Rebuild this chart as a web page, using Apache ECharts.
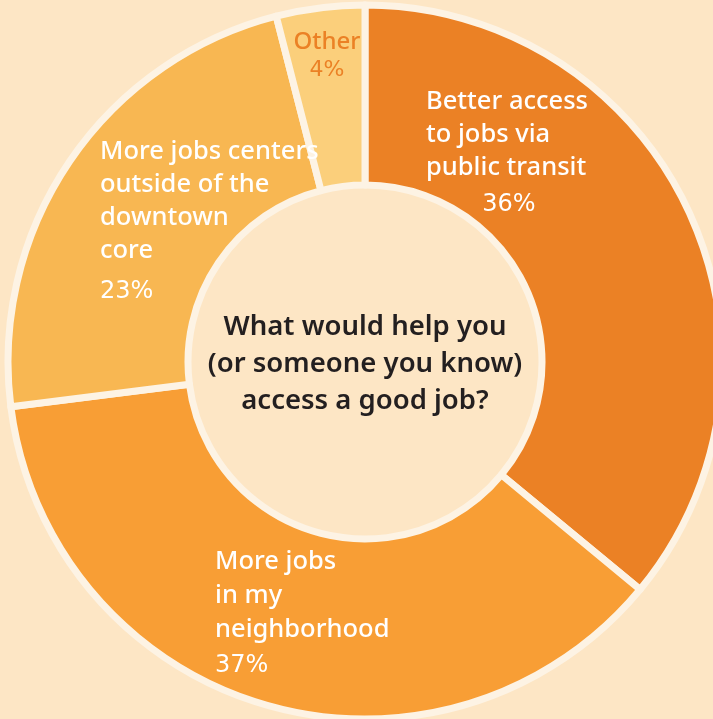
<!DOCTYPE html>
<html>
<head>
<meta charset="utf-8">
<script src="https://cdn.jsdelivr.net/npm/echarts@6/dist/echarts.min.js"></script>
<style>
html,body{margin:0;padding:0;background:#FDE6C5;}
#chart{width:713px;height:719px;}
</style>
</head>
<body>
<div id="chart"></div>
<script>
// Data
var categories = [
  ["Better access", "to jobs via", "public transit"],
  ["More jobs", "in my", "neighborhood"],
  ["More jobs centers", "outside of the", "downtown", "core"],
  ["Other"]
];
var values = [36, 37, 23, 4];
var colors = ["#EB8125", "#F89E35", "#F8B752", "#FBCF7B"];
var centerQuestion = ["What would help you", "(or someone you know)", "access a good job?"];

// label layout (positions only)
var labelPos = [
  {x: 426, y: 85, align: 'left'},
  {x: 215, y: 545, align: 'left'},
  {x: 100, y: 135, align: 'left'},
  {x: 327, y: 29, align: 'center'}
];
var labelStyles = [
  {color: '#fff', fontSize: 25.5, lineHeight: 33, pWidth: 166, pAlign: 'center', pLH: 41, pSize: 24},
  {color: '#fff', fontSize: 25.5, lineHeight: 34, pWidth: null, pAlign: 'left', pLH: 38, pSize: 24},
  {color: '#fff', fontSize: 25.5, lineHeight: 33, pWidth: null, pAlign: 'left', pLH: 49, pSize: 24},
  {color: '#EB8125', fontSize: 24, lineHeight: 26, pWidth: null, pAlign: 'center', pLH: 30, pSize: 22}
];

var FONT = '"Noto Sans", "Open Sans", sans-serif';
var PFONT = '"DejaVu Sans", sans-serif';

var data = values.map(function (v, i) {
  var s = labelStyles[i];
  var pStyle = {fontSize: s.pSize, lineHeight: s.pLH, color: s.color, fontFamily: PFONT, align: s.pAlign};
  if (s.pWidth) pStyle.width = s.pWidth;
  return {
    name: categories[i].join(' '),
    value: v,
    itemStyle: {color: colors[i]},
    label: {
      show: true,
      position: 'inside',
      formatter: categories[i].map(function (l) { return '{t|' + l + '}'; }).join('\n') + '\n{p|' + v + '%}',
      rich: {
        t: {fontSize: s.fontSize, lineHeight: s.lineHeight, color: s.color, fontFamily: FONT, fontWeight: 500},
        p: pStyle
      },
      align: labelPos[i].align
    }
  };
});

var chart = echarts.init(document.getElementById('chart'), null, {renderer: 'canvas'});
chart.setOption({
  backgroundColor: '#FDE6C5',
  animation: false,
  title: {
    text: centerQuestion.join('\n'),
    left: 365,
    top: 309,
    padding: 0,
    textAlign: 'center',
    textStyle: {fontFamily: FONT, fontSize: 27.5, fontWeight: 600, color: '#231F20', lineHeight: 37}
  },
  series: [{
    type: 'pie',
    center: [365, 362],
    radius: [177, 357],
    startAngle: 90,
    clockwise: true,
    avoidLabelOverlap: false,
    labelLine: {show: false},
    itemStyle: {borderColor: '#FDF3E4', borderWidth: 7},
    label: {show: true},
    labelLayout: function (params) {
      var p = labelPos[params.dataIndex];
      return {x: p.x, y: p.y, align: p.align, verticalAlign: 'top'};
    },
    emphasis: {disabled: true},
    data: data
  }]
});
</script>
</body>
</html>
